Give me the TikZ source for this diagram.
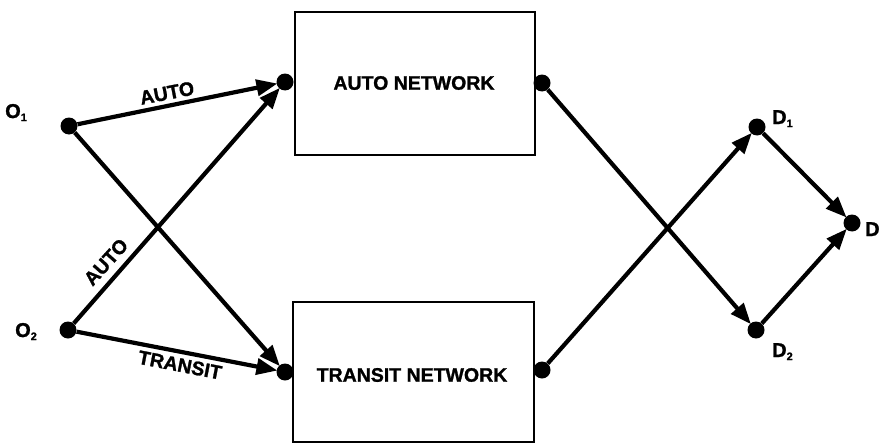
\documentclass[tikz,border=0pt]{standalone}
\usepackage{fontspec}
\setmainfont[BoldFeatures={FakeBold=1.2}]{Liberation Sans}
\usetikzlibrary{arrows.meta}
\tikzset{
  dot/.style={circle,fill=black,inner sep=0pt,minimum size=17pt},
  netbox/.style={draw=black,line width=2.2pt},
  arr/.style={line width=4.2pt,-{Triangle[length=21pt,width=16pt]},shorten >=-1pt},
  lbl/.style={font=\fontsize{19.5}{21}\selectfont\bfseries,inner sep=0pt},
  sublbl/.style={font=\fontsize{20}{21}\selectfont\bfseries,inner sep=0pt,anchor=base west}
}
\newcommand{\sbn}[1]{\raisebox{-0.3ex}{\fontsize{11}{11}\selectfont\bfseries #1}}
\begin{document}
\begin{tikzpicture}[x=1pt,y=-1pt]
\useasboundingbox (0,0) rectangle (883,444);
% boxes
\draw[netbox] (295,12) rectangle (535,155);
\draw[netbox] (293,302) rectangle (534,442);
\node[lbl] (autotxt) at (414,83) {AUTO NETWORK};
\node[lbl] (transittxt) at (412,375) {TRANSIT NETWORK};
% dots
\node[dot] (o1) at (69,126) {};
\node[dot] (o2) at (68,330) {};
\node[dot] (al) at (285,82) {};
\node[dot] (ar) at (542,83) {};
\node[dot] (tl) at (285,372) {};
\node[dot] (tr) at (542,370) {};
\node[dot] (d1) at (757,127) {};
\node[dot] (d2) at (756,330) {};
\node[dot] (d) at (852,223) {};
% labels
\node[sublbl] (o1l) at (5,118) {O\sbn{1}};
\node[sublbl] (o2l) at (15,337) {O\sbn{2}};
\node[sublbl] (d1l) at (772,124) {D\sbn{1}};
\node[sublbl] (d2l) at (772,357) {D\sbn{2}};
\node[sublbl] (dl) at (865,236) {D};
% connectors
\draw[arr] (o1) -- (al);
\draw[arr] (o2) -- (al);
\draw[arr] (o1) -- (tl);
\draw[arr] (o2) -- (tl);
\draw[arr] (ar) -- (d2);
\draw[arr] (tr) -- (d1);
\draw[arr] (d1) -- (d);
\draw[arr] (d2) -- (d);
% edge labels
\node[lbl,rotate=11] (a1) at (167,93) {AUTO};
\node[lbl,rotate=48] (a2) at (106,262) {AUTO};
\node[lbl,rotate=-11] (t1) at (180,365) {TRANSIT};
\end{tikzpicture}
\end{document}
